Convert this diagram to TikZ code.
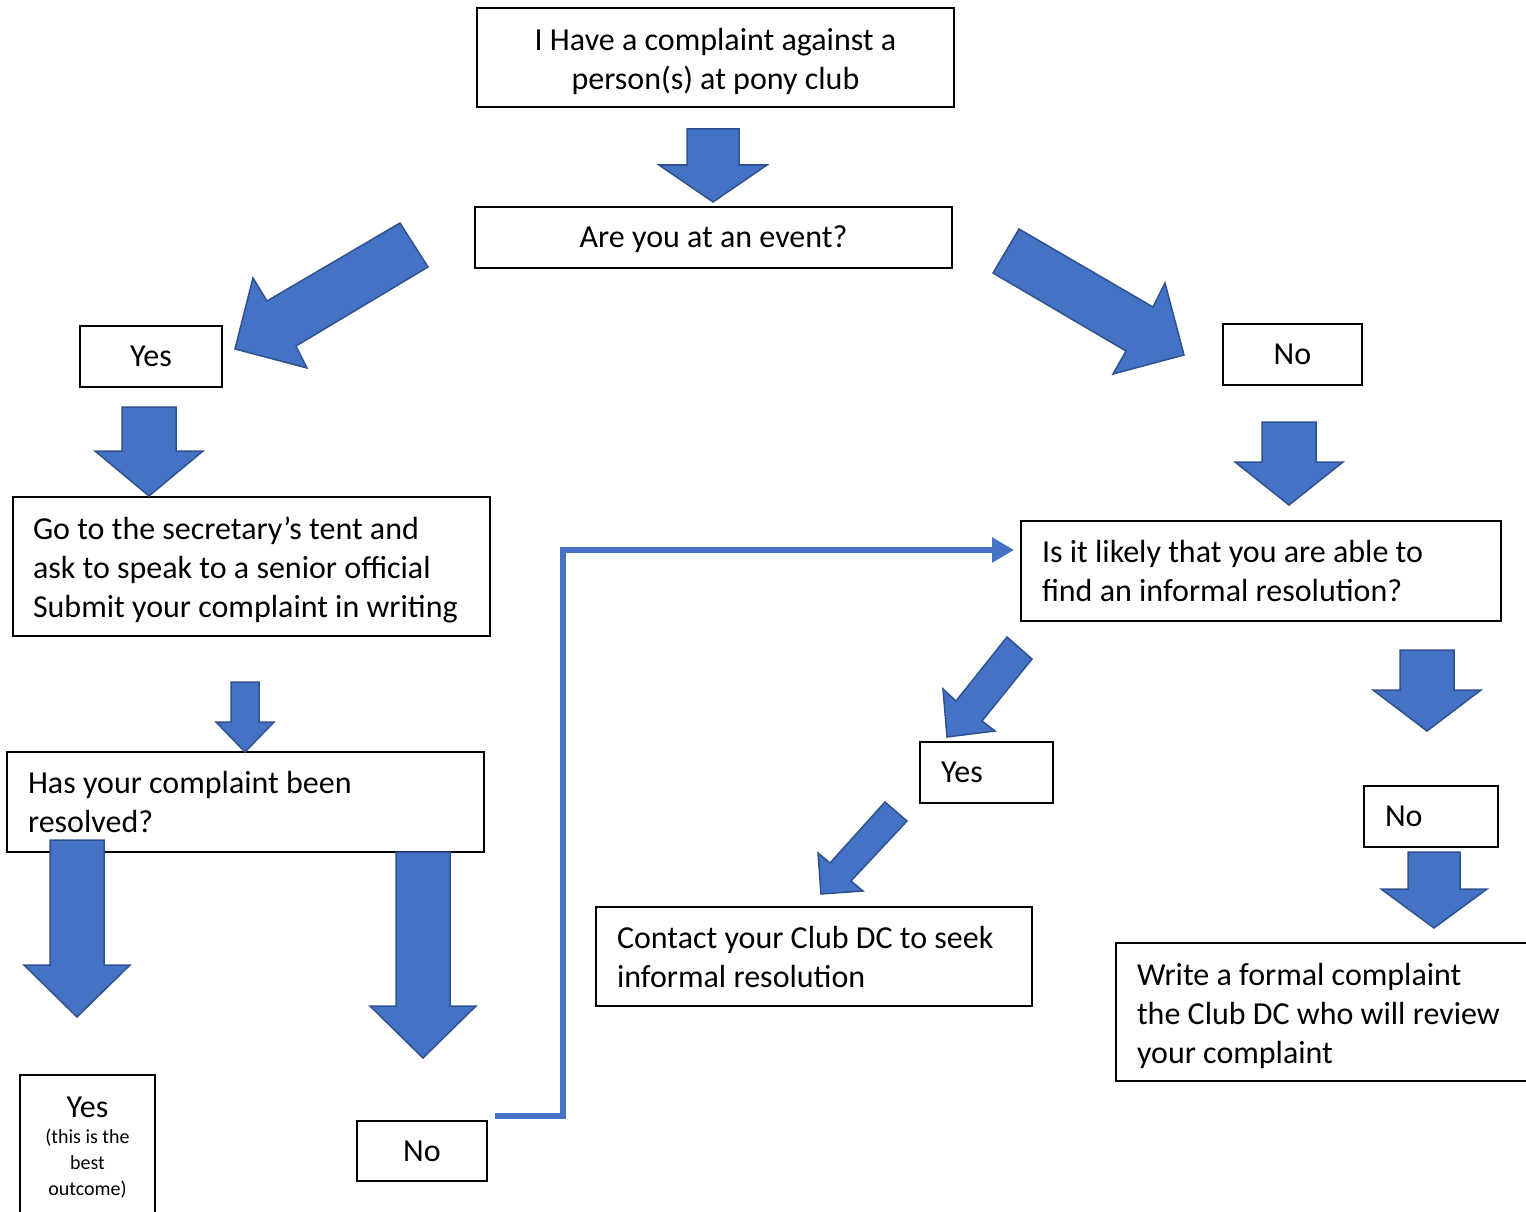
\documentclass[tikz,border=0pt]{standalone}
\usepackage{fontspec}
\setmainfont{Carlito}
\usetikzlibrary{arrows.meta}
\definecolor{arrowblue}{HTML}{4472C4}
\definecolor{arrowedge}{HTML}{2F528F}

\begin{document}
\begin{tikzpicture}[x=1pt, y=-1pt,
    box/.style={draw, line width=2pt, inner sep=0pt, font=\fontsize{32}{39}\selectfont},
    single/.style={text height=26pt, text depth=6pt},
    blockarrow/.style={fill=arrowblue, draw=arrowedge, line width=1.5pt, line join=miter}]
    % Page size and clipping
    \useasboundingbox (0,0) rectangle (1526,1212);
    \clip (0,0) rectangle (1526,1212);

    % Boxes
    \node[box, minimum width=477pt, minimum height=99pt, align=center] (complaint) at (715.5,57.5)
        {\rule{0pt}{30pt}I Have a complaint against a\\person(s) at pony club};
    \node[box, single, minimum width=477pt, minimum height=61pt] (event) at (713.5,237.5) {Are you at an event?};
    \node[box, single, minimum width=142pt, minimum height=61pt] (yesEvent) at (151,356.5) {Yes};
    \node[box, single, minimum width=139pt, minimum height=61pt] (noEvent) at (1292.5,354.5) {No};
    \node[box, minimum width=477pt, minimum height=139pt, text width=437pt, align=flush left] (secretary) at (251.5,566.5)
        {\rule{0pt}{30pt}Go to the secretary’s tent and\\ask to speak to a senior official\\Submit your complaint in writing};
    \node[box, minimum width=480pt, minimum height=100pt, text width=438pt, align=flush left] (likely) at (1261,571)
        {Is it likely that you are able to\\find an informal resolution?};
    \node[box, minimum width=477pt, minimum height=100pt, text width=435pt, align=flush left] (resolved) at (245.5,802)
        {Has your complaint been\\resolved?};
    \node[box, single, minimum width=133pt, minimum height=61pt, text width=91pt, align=flush left] (yesInformal) at (986.5,772.5) {Yes};
    \node[box, single, minimum width=134pt, minimum height=61pt, text width=92pt, align=flush left] (noInformal) at (1431,816.5) {No};
    \node[box, minimum width=436pt, minimum height=99pt, text width=394pt, align=flush left] (contact) at (814,956.5)
        {Contact your Club DC to seek\\informal resolution};
    \node[box, minimum width=420pt, minimum height=138pt, text width=378pt, align=flush left] (formal) at (1326,1012)
        {\rule{0pt}{30pt}Write a formal complaint\\the Club DC who will review\\your complaint};
    \node[box, minimum width=135pt, minimum height=146pt, text width=120pt, align=flush center] (bestYes) at (87.5,1148)
        {Yes\par\fontsize{20}{26}\selectfont\rule{0pt}{25pt}(this is the\\best\\outcome)\par};
    \node[box, single, minimum width=130pt, minimum height=60pt] (noResolved) at (422,1151) {No};

    % Straight block arrows
    \foreach \cx/\ty/\hy/\py/\sw/\hw in {713/129/165/202/26/54, 149/407/451/496/27/54,
        1289/422/462/505/27/54, 245/682/722/752/14/29, 77/840/965/1017/27/53,
        423/852/1006/1058/27/53, 1427/650/690/731/27/54, 1434/852/889/928/26/53}
        \draw[blockarrow] (\cx-\sw,\ty) -- (\cx+\sw,\ty) -- (\cx+\sw,\hy) -- (\cx+\hw,\hy)
            -- (\cx,\py) -- (\cx-\hw,\hy) -- (\cx-\sw,\hy) -- cycle;

    % Slanted block arrows
    \draw[blockarrow] (400,223) -- (428,267) -- (296,346) -- (307,368) -- (235,349) -- (253,278) -- (267,301) -- cycle;
    \draw[blockarrow] (1019,229) -- (1153,307) -- (1165,283) -- (1184,355) -- (1113,374) -- (1126,351) -- (993,273) -- cycle;
    \draw[blockarrow] (1007,637) -- (1032,659) -- (982,721) -- (995,731) -- (947,737) -- (943,689) -- (956,701) -- cycle;
    \draw[blockarrow] (885,802) -- (907,821) -- (851,881) -- (863,891) -- (821,894) -- (818,853) -- (830,863) -- cycle;

    % Connector back to the informal question
    \draw[arrowblue, line width=6pt, -{Triangle[length=22pt, width=24pt]}]
        ([shift={(7,-4)}]noResolved.north east) -- ++(68,0) |- ([shift={(-6,-21)}]likely.west);
\end{tikzpicture}
\end{document}
